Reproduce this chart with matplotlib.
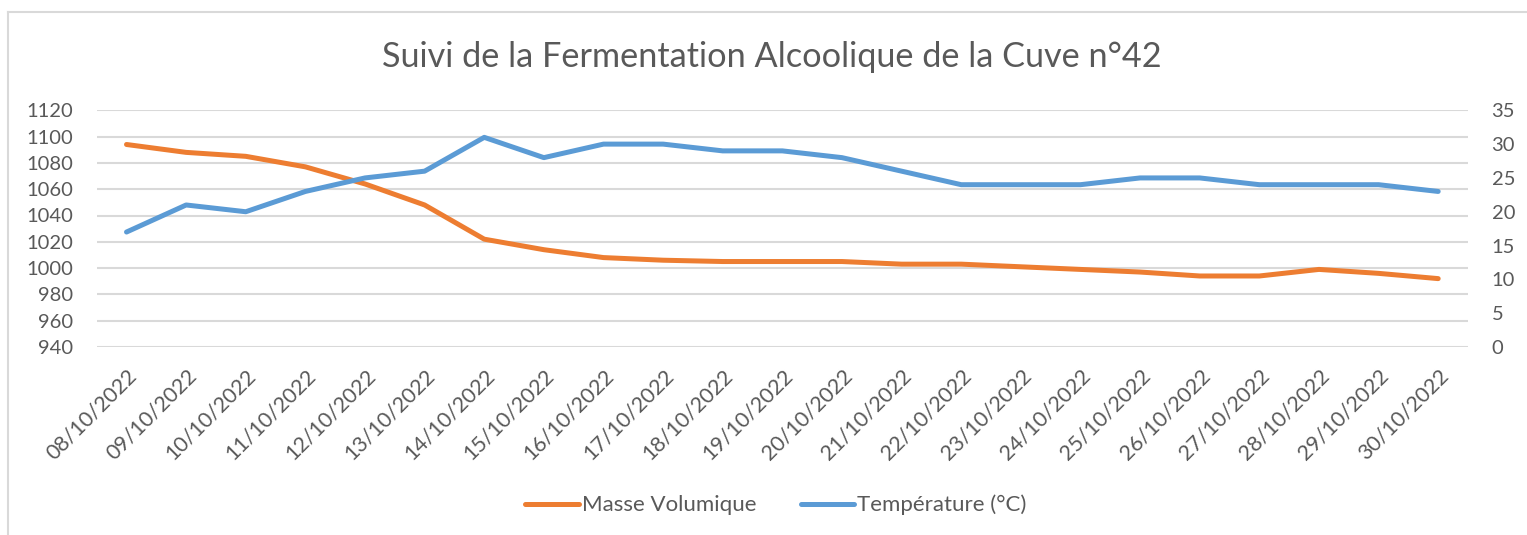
import matplotlib
matplotlib.use("Agg")
import matplotlib.pyplot as plt
from matplotlib.lines import Line2D

dates = ["08/10/2022", "09/10/2022", "10/10/2022", "11/10/2022", "12/10/2022",
         "13/10/2022", "14/10/2022", "15/10/2022", "16/10/2022", "17/10/2022",
         "18/10/2022", "19/10/2022", "20/10/2022", "21/10/2022", "22/10/2022",
         "23/10/2022", "24/10/2022", "25/10/2022", "26/10/2022", "27/10/2022",
         "28/10/2022", "29/10/2022", "30/10/2022"]
masse_volumique = [1094, 1088, 1085, 1077, 1064, 1048, 1022, 1014, 1008, 1006,
                   1005, 1005, 1005, 1003, 1003, 1001, 999, 997, 994, 994,
                   999, 996, 992]
temperature = [17, 21, 20, 23, 25, 26, 31, 28, 30, 30, 29, 29, 28, 26, 24,
               24, 24, 25, 25, 24, 24, 24, 23]
left_ticks = [940, 960, 980, 1000, 1020, 1040, 1060, 1080, 1100, 1120]
right_ticks = [0, 5, 10, 15, 20, 25, 30, 35]
title = "Suivi de la Fermentation Alcoolique de la Cuve n°42"

FONT = "Lato"
TXT = "#595959"
ORANGE = "#ED7D31"
BLUE = "#5B9BD5"
GRID = "#D9D9D9"

plt.rcParams["font.family"] = [FONT, "DejaVu Sans"]

W, H = 1527, 535
fig = plt.figure(figsize=(W / 100, H / 100), dpi=100)

# chart border (top and left visible)
fig.add_artist(Line2D([8 / W, 8 / W], [0, 1 - 11.5 / H], transform=fig.transFigure,
                      color=GRID, lw=1.5))
fig.add_artist(Line2D([8 / W, 1], [1 - 11.5 / H, 1 - 11.5 / H], transform=fig.transFigure,
                      color=GRID, lw=1.5))

left, right, top, bottom = 96.7, 1468, 110.3, 347
ax = fig.add_axes([left / W, 1 - bottom / H, (right - left) / W, (bottom - top) / H])
ax2 = ax.twinx()

x = list(range(len(dates)))
l1, = ax.plot(x, masse_volumique, color=ORANGE, lw=3.6, solid_capstyle="round",
              solid_joinstyle="round", label="Masse Volumique", zorder=3)
l2, = ax2.plot(x, temperature, color=BLUE, lw=3.6, solid_capstyle="round",
               solid_joinstyle="round", label="Température (°C)", zorder=3)

ax.set_xlim(-0.5, len(dates) - 0.5)
ax.set_ylim(940, 1120)
ax2.set_ylim(0, 35)
ax.set_yticks(left_ticks)
ax2.set_yticks(right_ticks)
ax.set_xticks(x)
ax.set_xticklabels(dates, rotation=45, ha="right", va="top", rotation_mode="anchor")

ax.grid(axis="y", color=GRID, lw=1.5)
ax.set_axisbelow(True)
for a in (ax, ax2):
    for s in a.spines.values():
        s.set_visible(False)
ax.tick_params(axis="y", length=0, pad=17, labelsize=14.5, labelcolor=TXT)
ax2.tick_params(axis="y", length=0, pad=17, labelsize=14.5, labelcolor=TXT)
ax.tick_params(axis="x", length=0, pad=13, labelsize=15.5, labelcolor=TXT)

fig.text(772 / W, 1 - 57 / H, title, ha="center", va="center", fontsize=24.7, color=TXT)

fig.legend(handles=[l1, l2], loc="center", bbox_to_anchor=(776 / W, 1 - 505 / H),
           ncol=2, frameon=False, fontsize=16, labelcolor=TXT,
           handlelength=2.4, handletextpad=0.15, columnspacing=2.0)

fig.savefig("out.png", dpi=100)
